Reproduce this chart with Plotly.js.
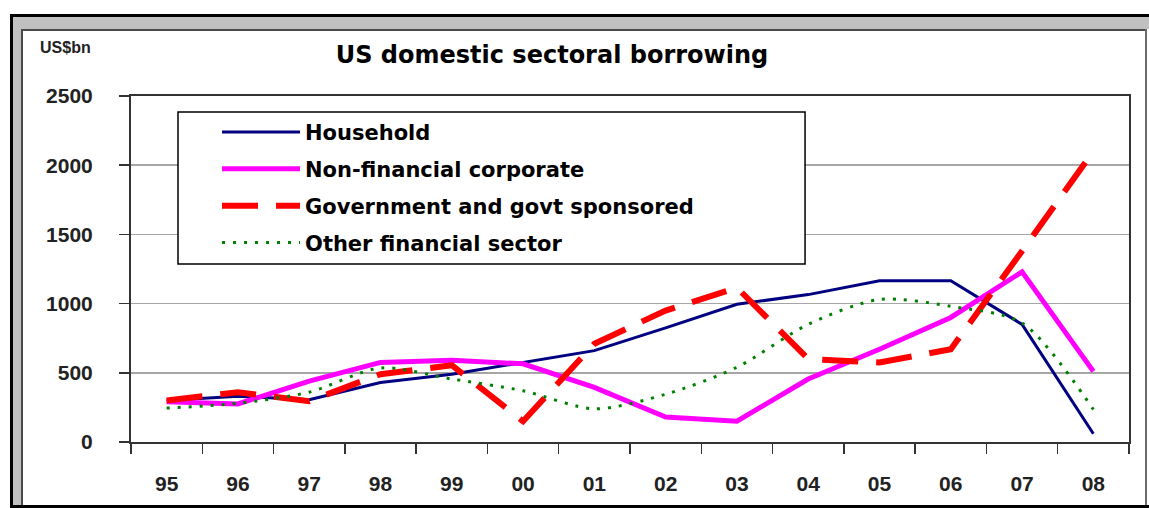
<!DOCTYPE html>
<html>
<head>
<meta charset="utf-8">
<script src="https://cdn.plot.ly/plotly-3.0.1.min.js"></script>
<style>
  html, body { margin: 0; padding: 0; background: #ffffff; }
  #wrap { position: relative; width: 1149px; height: 508px; overflow: hidden; }
  #chart { position: absolute; left: 0; top: 0; width: 1149px; height: 508px; }
  .fr { position: absolute; pointer-events: none; }
</style>
</head>
<body>
<div id="wrap">
  <div id="chart"></div>
  <div class="fr" style="left:10px;top:14px;width:1139px;height:3px;background:#000;"></div>
  <div class="fr" style="left:10px;top:14px;width:3px;height:494px;background:#000;"></div>
  <div class="fr" style="left:10px;top:505px;width:1139px;height:3px;background:#000;"></div>
  <div class="fr" style="left:13px;top:17px;width:1136px;height:12px;background:#c0c0c0;"></div>
  <div class="fr" style="left:13px;top:17px;width:8px;height:488px;background:#c0c0c0;"></div>
  <div class="fr" style="left:21px;top:29px;width:1126px;height:2px;background:#4a4a4a;"></div>
  <div class="fr" style="left:21px;top:29px;width:2px;height:476px;background:#4a4a4a;"></div>
  <div class="fr" style="left:1145px;top:29px;width:2px;height:476px;background:#6a6a6a;"></div>
</div>
<script>
// Data (US$bn)
const years = ['95','96','97','98','99','00','01','02','03','04','05','06','07','08'];
const household = [300, 330, 305, 430, 490, 575, 660, 825, 995, 1065, 1165, 1165, 850, 60];
const nonFinancialCorporate = [290, 275, 440, 575, 590, 565, 395, 180, 150, 455, 670, 900, 1230, 510];
const government = [300, 360, 295, 490, 555, 150, 710, 950, 1115, 600, 575, 670, 1380, 2100];
const otherFinancial = [245, 280, 360, 535, 455, 370, 240, 345, 540, 850, 1030, 980, 860, 235];
const seriesNames = ['Household', 'Non-financial corporate', 'Government and govt sponsored', 'Other financial sector'];
const yTicks = [0, 500, 1000, 1500, 2000, 2500];

const traces = [
  {x: years, y: household, name: seriesNames[0], legendgroup: 'g1', mode: 'lines',
   line: {color: '#000080', width: 3}},
  {x: years, y: nonFinancialCorporate, name: seriesNames[1], legendgroup: 'g2', mode: 'lines',
   line: {color: '#ff00ff', width: 5}},
  {x: years, y: government, name: seriesNames[2], legendgroup: 'g3', mode: 'lines',
   line: {color: '#ff0000', width: 6, dash: '36px,18px'}},
  {x: years, y: otherFinancial, name: seriesNames[3], legendgroup: 'g4', mode: 'lines',
   line: {color: '#008000', width: 3, dash: '3px,8px', shape: 'spline', smoothing: 0.8}}
];

const tickFont = {family: 'Liberation Sans, Arial, sans-serif', size: 21, weight: 'bold', color: '#222'};

const layout = {
  width: 1149, height: 508,
  margin: {l: 131, r: 20, t: 96, b: 66},
  paper_bgcolor: '#ffffff', plot_bgcolor: '#ffffff',
  font: {family: 'Liberation Sans, Arial, sans-serif', color: '#111'},
  title: {text: 'US domestic sectoral borrowing', x: 0.4804, xanchor: 'center', xref: 'container',
          y: 0.892, yanchor: 'middle', yref: 'container',
          font: {family: 'DejaVu Sans, sans-serif', size: 24, weight: 'bold', color: '#000'}},
  showlegend: true,
  legend: {x: 0.0862, xanchor: 'left', y: 0.954, yanchor: 'top',
           bgcolor: 'rgba(0,0,0,0)', borderwidth: 0,
           font: {family: 'DejaVu Sans, sans-serif', size: 21, weight: 'bold', color: '#000'},
           itemwidth: 78, tracegroupgap: 6.5, traceorder: 'grouped'},
  shapes: [
    {type: 'rect', xref: 'paper', yref: 'paper', x0: 0.0471, x1: 0.6754, y0: 0.5145, y1: 0.9538,
     fillcolor: '#ffffff', line: {color: '#000', width: 1.5}, layer: 'above'}
  ],
  xaxis: {type: 'category', categoryarray: years, tickvals: years, ticktext: years,
          range: [-0.5, years.length - 0.5],
          showline: true, mirror: true, linecolor: '#333', linewidth: 2,
          ticks: 'outside', tickson: 'boundaries', ticklen: 10, tickwidth: 1.5, tickcolor: '#333',
          showgrid: false, zeroline: false, ticklabelstandoff: 22,
          tickfont: tickFont},
  yaxis: {range: [0, 2500], tickvals: yTicks, ticktext: yTicks.map(String),
          showline: true, mirror: true, linecolor: '#333', linewidth: 2,
          ticks: 'outside', ticklen: 10, tickwidth: 1.5, tickcolor: '#333',
          showgrid: true, gridcolor: '#a6a6a6', gridwidth: 1.5, zeroline: false,
          ticklabelstandoff: 22,
          tickfont: tickFont},
  annotations: [
    {text: 'US$bn', xref: 'paper', yref: 'paper', x: -0.0655, y: 1.1416, xanchor: 'center', yanchor: 'middle',
     showarrow: false, font: {family: 'Liberation Sans, Arial, sans-serif', size: 16, weight: 'bold', color: '#222'}}
  ]
};

Plotly.newPlot('chart', traces, layout, {staticPlot: true, displayModeBar: false});
</script>
</body>
</html>
